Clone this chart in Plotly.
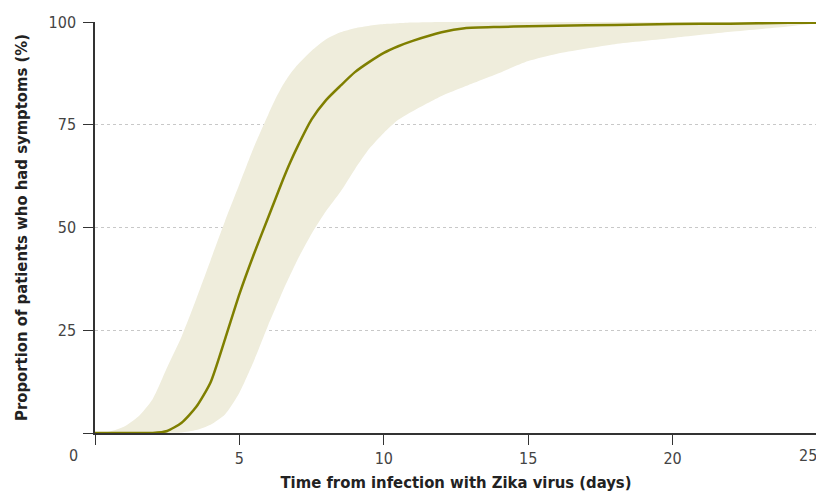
import plotly.graph_objects as go

days = [0, 0.5, 1, 1.5, 2, 2.5, 3, 3.5, 4, 4.5, 5, 5.5, 6, 6.25, 6.5, 6.75, 7, 7.5, 8, 8.5,
        9, 9.5, 10, 10.5, 11, 12, 12.8, 14, 15, 16, 18, 20, 22, 24, 25]
median = [0, 0, 0, 0, 0, 0.5, 2.5, 6.3, 12.3, 22.8, 33.8, 43.5, 52.5, 57, 61.5, 65.7, 69.5, 76.3, 81, 84.5,
          87.8, 90.3, 92.5, 94.1, 95.4, 97.5, 98.5, 98.8, 98.95, 99.1, 99.3, 99.5, 99.6, 99.8, 99.8]
upper = [0, 0.3, 1.5, 4, 8.3, 16, 23.5, 32.5, 42, 51.5, 60.5, 69.5, 77.5, 81.3, 84.6, 87.3, 89.5, 93, 95.8, 97.5,
         98.5, 99.1, 99.5, 99.7, 99.85, 100, 100, 100, 100, 100, 100, 100, 100, 100, 100]
lower = [0, 0, 0, 0, 0, 0, 0.1, 0.7, 2.0, 4.5, 9.8, 17.5, 26.3, 30.4, 34.5, 38.3, 42, 48.5, 54, 58.7,
         64.2, 69.2, 73, 76.2, 78.3, 82, 84.3, 87.6, 90.5, 92.3, 94.6, 96.1, 97.6, 98.9, 99.7]

y_ticks = [0, 25, 50, 75, 100]
y_ticktext = ["", "25", "50", "75", "100"]
x_ticks = [0, 5, 10, 15, 20, 25]
x_ticktext = ["", "5", "10", "15", "20", ""]

LINE = "#7f7f00"
BAND = "#efeddc"
FONT = "DejaVu Sans Condensed, DejaVu Sans, sans-serif"

# page body has an 8px margin; keep the figure inside the window so no scrollbar appears
W, H = 816, 484
L, R, T, B = 87, 7, 14, 59

fig = go.Figure()
fig.add_trace(go.Scatter(x=days, y=lower, mode="lines",
                         line=dict(width=0, color=BAND, shape="spline", smoothing=0.6),
                         hoverinfo="skip", showlegend=False))
fig.add_trace(go.Scatter(x=days, y=upper, mode="lines",
                         line=dict(width=0, color=BAND, shape="spline", smoothing=0.6),
                         fill="tonexty", fillcolor=BAND, hoverinfo="skip", showlegend=False))
fig.add_trace(go.Scatter(x=days, y=median, mode="lines",
                         line=dict(width=2.5, color=LINE, shape="spline", smoothing=0.6),
                         showlegend=False, cliponaxis=False))

fig.update_layout(
    width=W, height=H,
    margin=dict(l=L, r=R, t=T, b=B),
    paper_bgcolor="white", plot_bgcolor="white",
    font=dict(family=FONT, color="#333333"),
    xaxis=dict(range=[0, 25], tickvals=x_ticks, ticktext=x_ticktext, showgrid=False,
               zeroline=False, showline=True, linecolor="#333333", linewidth=1.5,
               ticks="outside", ticklen=10, tickwidth=1.2, tickcolor="#333333",
               tickfont=dict(size=16, color="#444444", family=FONT),
               ticklabeloverflow="allow", automargin=False,
               title=dict(text="<b>Time from infection with Zika virus (days)</b>",
                          font=dict(size=16.5, color="#222222", family=FONT), standoff=19)),
    yaxis=dict(range=[0, 100], tickvals=y_ticks, ticktext=y_ticktext, showgrid=True,
               gridcolor="#c8c8c8", griddash="dot", gridwidth=1.2,
               zeroline=False, showline=True, linecolor="#333333", linewidth=1.5,
               ticks="outside", ticklen=10, tickwidth=1.2, tickcolor="#333333",
               tickfont=dict(size=16, color="#444444", family=FONT), ticklabelstandoff=4,
               automargin=False,
               title=dict(text="<b>Proportion of patients who had symptoms (%)</b>",
                          font=dict(size=16.5, color="#222222", family=FONT), standoff=17)),
)
pw, ph = W - L - R, H - T - B
label_y = -22 / ph
fig.add_annotation(x=-22 / pw, y=label_y, xref="paper", yref="paper", text="0",
                   showarrow=False, xanchor="center", yanchor="middle",
                   font=dict(size=16, color="#444444", family=FONT))
# last x tick label, right-aligned at its tick so it stays inside the visible area
fig.add_annotation(x=x_ticks[-1], y=label_y, xref="x", yref="paper", text=str(x_ticks[-1]),
                   showarrow=False, xanchor="right", yanchor="middle", xshift=2,
                   font=dict(size=16, color="#444444", family=FONT))

fig.write_html("out.html")
